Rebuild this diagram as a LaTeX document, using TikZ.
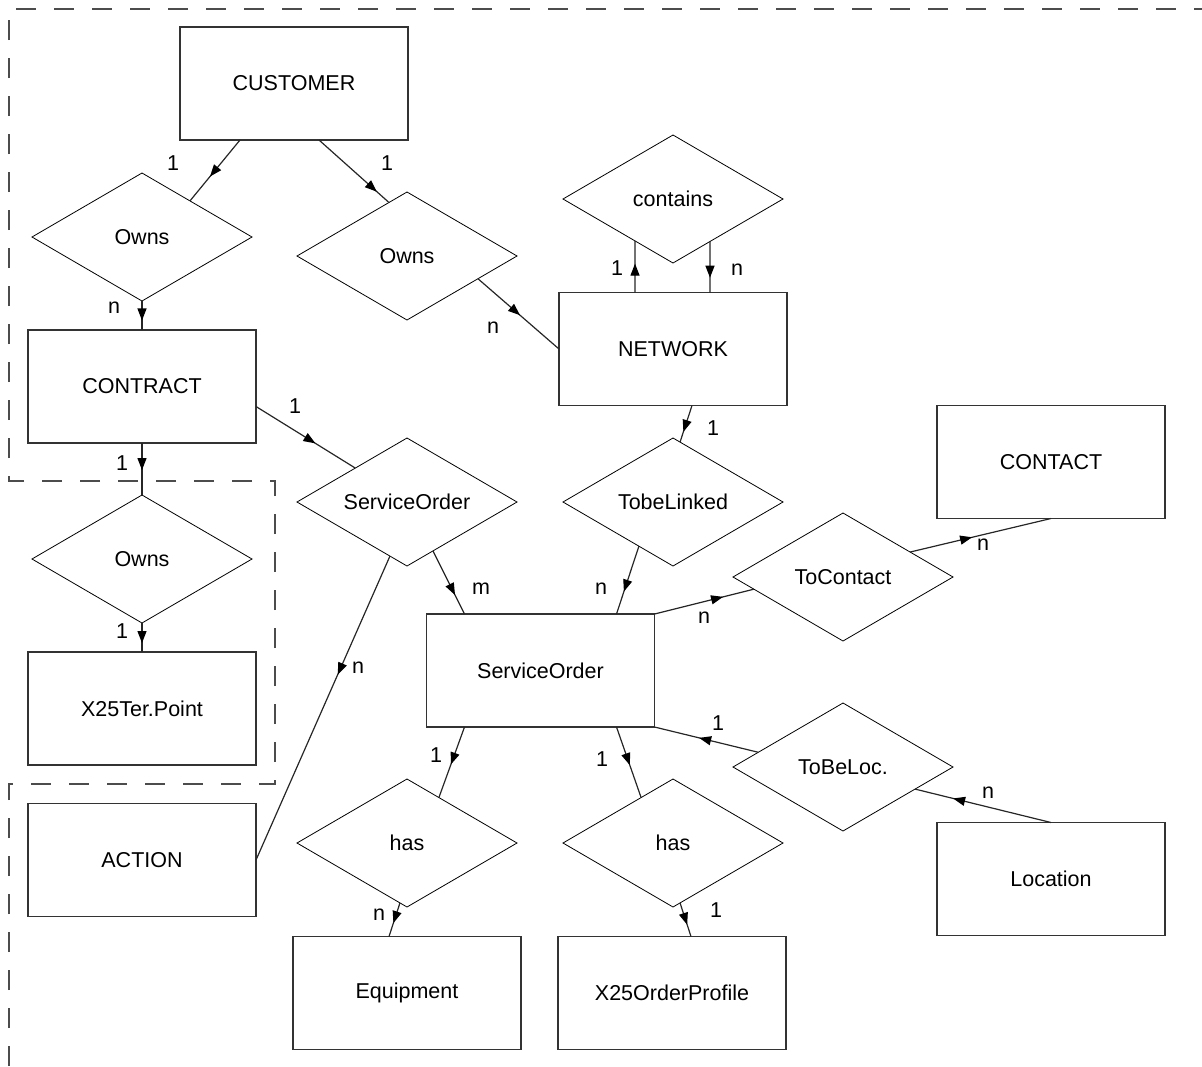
\documentclass[tikz,border=0pt]{standalone}
\usepackage{fontspec}
\setmainfont{Liberation Sans}
\usetikzlibrary{shapes.geometric,arrows.meta,decorations.markings,calc}
\begin{document}
\begin{tikzpicture}[x=1pt,y=-1pt,
  font=\fontsize{21.5}{25}\selectfont,
  entity/.style={draw=black!80, line width=1.6pt, minimum width=228pt, minimum height=113pt, inner sep=0pt, outer sep=0pt},
  rel/.style={draw, diamond, line width=0.8pt, minimum width=220pt, minimum height=128pt, aspect=1.72, inner sep=0pt, outer sep=0pt},
  conn/.style={draw=black!85, line width=1.2pt},
  midarrow/.style={postaction={decorate}, decoration={markings, mark=at position #1 with {\arrow[black]{Triangle[width=9pt,length=12pt]}}}},
  card/.style={inner sep=0pt},
  frame/.style={draw=black!70, line width=1.3pt, dash pattern=on 20pt off 18pt}]
\useasboundingbox (0,0) rectangle (1202,1066);

% dashed frame
\draw[frame] (9,1066) -- (9,784) -- (275,784) -- (275,481) -- (9,481) -- (9,9) -- (1202,9);

% entities
\node[entity] (cust) at (294,83.5) {CUSTOMER};
\node[entity] (contract) at (142,386.5) {CONTRACT};
\node[entity] (x25tp) at (142,708.5) {X25Ter.Point};
\node[entity] (action) at (142,860) {ACTION};
\node[entity] (netw) at (673,349) {NETWORK};
\node[entity] (so) at (540.5,670.5) {ServiceOrder};
\node[entity] (contact) at (1051,462) {CONTACT};
\node[entity] (loc) at (1051,879) {Location};
\node[entity] (equip) at (407,993) {Equipment};
\node[entity] (x25op) at (672,993) {X25OrderProfile};

% relationships
\node[rel] (own1) at (142,237) {Owns};
\node[rel] (own2) at (407,256) {Owns};
\node[rel] (cont) at (673,199) {contains};
\node[rel] (own3) at (142,559) {Owns};
\node[rel] (sod) at (407,502) {ServiceOrder};
\node[rel] (tl) at (673,502) {TobeLinked};
\node[rel] (tc) at (843,577) {ToContact};
\node[rel] (tbl) at (843,767) {ToBeLoc.};
\node[rel] (has1) at (407,843) {has};
\node[rel] (has2) at (673,843) {has};

% connectors
\draw[conn, midarrow=0.6] ([xshift=-54pt]cust.south) -- ($(own1.north)!0.436!(own1.east)$);
\draw[conn, midarrow=0.83] ([xshift=25pt]cust.south) -- ($(own2.north)!0.164!(own2.west)$);
\draw[conn, midarrow=0.67] (own1.south) -- (contract.north);
\draw[conn, midarrow=0.52] ($(own2.east)!0.355!(own2.south)$) -- (netw.west);
\draw[conn, midarrow=0.56] ([xshift=-38pt]netw.north) -- ($(cont.south)!0.345!(cont.west)$);
\draw[conn, midarrow=0.71] ($(cont.south)!0.336!(cont.east)$) -- ([xshift=37pt]netw.north);
\draw[conn, midarrow=0.72] ([xshift=19pt]netw.south) -- ($(tl.north)!0.064!(tl.east)$);
\draw[conn, midarrow=0.6] ([yshift=-20pt]contract.east) -- ($(sod.north)!0.47!(sod.west)$);
\draw[conn, midarrow=0.52] (contract.south) -- (own3.north);
\draw[conn, midarrow=0.69] (own3.south) -- (x25tp.north);
\draw[conn, midarrow=0.39] ($(sod.south)!0.155!(sod.west)$) -- (action.east);
\draw[conn, midarrow=0.7] ($(sod.south)!0.236!(sod.east)$) -- ([xshift=-76pt]so.north);
\draw[conn, midarrow=0.67] ($(tl.south)!0.31!(tl.west)$) -- ([xshift=76pt]so.north);
\draw[conn, midarrow=0.69] (so.north east) -- ($(tc.west)!0.19!(tc.south)$);
\draw[conn, midarrow=0.44] ($(tc.east)!0.39!(tc.north)$) -- (contact.south);
\draw[conn, midarrow=0.57] ($(tbl.west)!0.23!(tbl.north)$) -- (so.south east);
\draw[conn, midarrow=0.72] (loc.north) -- ($(tbl.east)!0.345!(tbl.south)$);
\draw[conn, midarrow=0.53] ([xshift=-76pt]so.south) -- ($(has1.north)!0.29!(has1.east)$);
\draw[conn, midarrow=0.54] ([xshift=76pt]so.south) -- ($(has2.north)!0.29!(has2.west)$);
\draw[conn, midarrow=0.6] ($(has1.south)!0.064!(has1.west)$) -- ([xshift=-18pt]equip.north);
\draw[conn, midarrow=0.65] ($(has2.south)!0.064!(has2.east)$) -- ([xshift=19pt]x25op.north);

% cardinalities
\node[card] (c1) at (173,163) {1};
\node[card] (c2) at (387,163) {1};
\node[card] (c3) at (114,308) {n};
\node[card] (c4) at (493,328) {n};
\node[card] (c5) at (617,268) {1};
\node[card] (c6) at (737,270) {n};
\node[card] (c7) at (713,428) {1};
\node[card] (c8) at (295,406) {1};
\node[card] (c9) at (122,463) {1};
\node[card] (c10) at (122,631) {1};
\node[card] (c11) at (358,668) {n};
\node[card] (c12) at (481,589) {m};
\node[card] (c13) at (601,589) {n};
\node[card] (c14) at (704,618) {n};
\node[card] (c15) at (983,545) {n};
\node[card] (c16) at (718,723) {1};
\node[card] (c17) at (988,793) {n};
\node[card] (c18) at (436,755) {1};
\node[card] (c19) at (602,759) {1};
\node[card] (c20) at (379,915) {n};
\node[card] (c21) at (716,910) {1};
\end{tikzpicture}
\end{document}
